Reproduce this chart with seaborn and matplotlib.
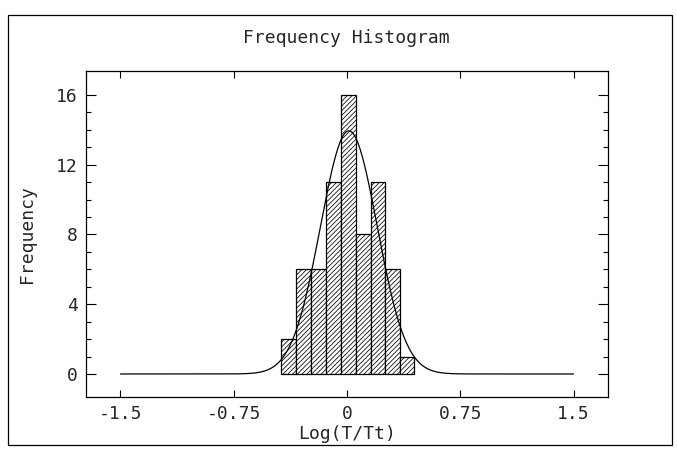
import numpy as np
import pandas as pd
import matplotlib
matplotlib.use("Agg")
import matplotlib.pyplot as plt
import matplotlib.patches as mpatches
import seaborn as sns

# ---- data ----
bin_edges = [-0.437, -0.339, -0.241, -0.141, -0.040, 0.058, 0.157, 0.254, 0.351, 0.446]
counts = [2, 6, 6, 11, 16, 8, 11, 6, 1]
x_ticks = [-1.5, -0.75, 0, 0.75, 1.5]
x_tick_labels = ["-1.5", "-0.75", "0", "0.75", "1.5"]
y_ticks = [0, 4, 8, 12, 16]
y_tick_labels = ["0", "4", "8", "12", "16"]
curve_range = [-1.5, 1.5]
title = "Frequency Histogram"
x_label = "Log(T/Tt)"
y_label = "Frequency"

sns.set_style("white")
plt.rcParams["font.family"] = ["DejaVu Sans Mono", "DejaVu Sans"]
plt.rcParams["hatch.linewidth"] = 0.55
plt.rcParams["hatch.color"] = "#222222"

edges = np.array(bin_edges)
centers = (edges[:-1] + edges[1:]) / 2
df = pd.DataFrame({"x": centers, "w": counts})

# normal fit derived from the histogram
n = float(np.sum(counts))
mu = float(np.sum(centers * np.array(counts)) / n)
sd = float(np.sqrt(np.sum(np.array(counts) * (centers - mu) ** 2) / n))
bw = float(np.mean(np.diff(edges)))
xs = np.linspace(curve_range[0], curve_range[1], 400)
ys = n * bw / (sd * np.sqrt(2 * np.pi)) * np.exp(-0.5 * ((xs - mu) / sd) ** 2)
curve = pd.DataFrame({"x": xs, "y": ys})

fig = plt.figure(figsize=(6.77, 4.5), dpi=100)
ax = fig.add_axes([86 / 677, (450 - 397) / 450, (608 - 86) / 677, (397 - 71) / 450])

sns.histplot(data=df, x="x", weights="w", bins=list(bin_edges), ax=ax,
             color="white", edgecolor="black", linewidth=0.9, alpha=1)
for p in ax.patches:
    p.set_hatch("///////")
    p.set_facecolor("white")
    p.set_edgecolor("black")

sns.lineplot(data=curve, x="x", y="y", ax=ax, color="black", linewidth=0.9)

ax.set_xlim(-1.728, 1.728)
ax.set_ylim(-1.32, 17.37)
ax.set_xticks(x_ticks)
ax.set_xticklabels(x_tick_labels)
ax.set_yticks(y_ticks)
ax.set_yticklabels(y_tick_labels)
ax.set_yticks(np.arange(0, 17, 1), minor=True)

ax.tick_params(axis="y", which="major", direction="in", length=7, width=0.8,
               left=True, right=True, labelsize=13, pad=6, color="black")
ax.tick_params(axis="y", which="minor", direction="in", length=3.5, width=0.8,
               left=True, right=True, color="black")
ax.tick_params(axis="x", which="major", direction="in", length=5, width=0.8,
               bottom=True, top=True, labelsize=13, pad=6, color="black")

for s in ax.spines.values():
    s.set_color("black")
    s.set_linewidth(0.9)

ax.set_xlabel(x_label, fontsize=13, labelpad=1)
ax.set_ylabel(y_label, fontsize=13, labelpad=14)
fig.text(346 / 677, 1 - 38 / 450, title, ha="center", va="center", fontsize=13)

fig.patches.append(mpatches.Rectangle((8 / 677, 5 / 450), (672 - 8) / 677, (445 - 15) / 450,
                                      transform=fig.transFigure, fill=False,
                                      edgecolor="black", linewidth=0.9))

fig.savefig("out.png", dpi=100, facecolor="white")
